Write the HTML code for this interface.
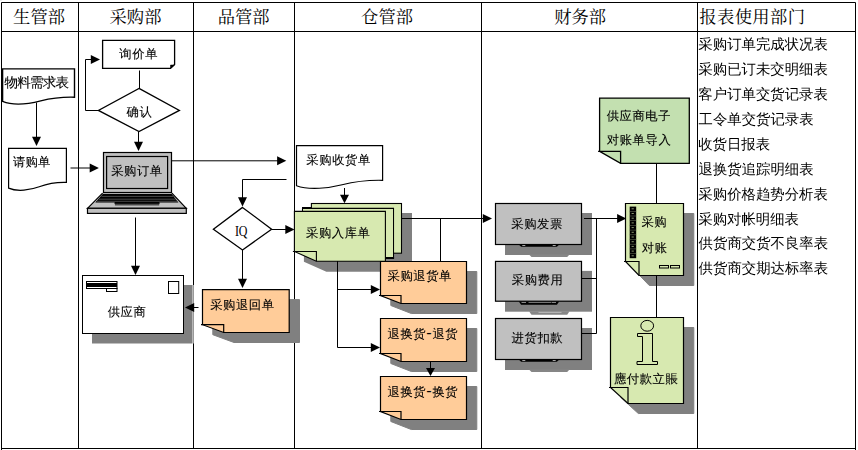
<!DOCTYPE html>
<html lang="zh-CN">
<head>
<meta charset="utf-8">
<title>采购流程图</title>
<style>
html,body{margin:0;padding:0;background:#fff;}
body{width:858px;height:450px;overflow:hidden;}
svg{display:block;}
text{font-family:"Liberation Serif", "WenQuanYi Zen Hei", sans-serif;fill:#000;}
.h{font-family:"Liberation Serif", "Noto Serif CJK SC", serif;}
.t{font-size:12.3px;letter-spacing:0.6px;stroke:#000;stroke-width:0.1px;}
.l{font-size:14.4px;}
.d{font-family:"Liberation Sans", "WenQuanYi Zen Hei", sans-serif;font-size:16px;letter-spacing:0.9px;}
.q{font-size:15px;letter-spacing:-0.4px;}
.h{font-size:17.3px;}
.ln{fill:none;stroke:#000;stroke-width:1;}
.gl{fill:none;stroke:#000;stroke-width:1;}
.ah{fill:#000;stroke:none;}
</style>
</head>
<body>
<svg width="858" height="450" viewBox="0 0 858 450">
<rect x="0" y="0" width="858" height="450" fill="#fff"/>
<rect x="0" y="0" width="2" height="1" fill="#ececec"/>
<g id="grid">
<path d="M1.5 2.5H855.5M1.5 31.5H855.5M1.5 448.5H855.5" class="gl"/>
<path d="M1.5 2.5V450M78.5 2.5V448.5M193.5 2.5V448.5M294.5 2.5V448.5M481.5 2.5V448.5M697.5 2.5V448.5M855.5 2.5V450" class="gl"/>
</g>
<text x="39.05" y="22.65" class="h" text-anchor="middle">生管部</text>
<text x="135.5" y="23.1" class="h" text-anchor="middle">采购部</text>
<text x="243.65" y="23.1" class="h" text-anchor="middle">品管部</text>
<text x="387.05" y="23.0" class="h" text-anchor="middle">仓管部</text>
<text x="580.2" y="23.4" class="h" text-anchor="middle">财务部</text>
<text x="699.3" y="22.65" class="h" style="letter-spacing:0.4px">报表使用部门</text>
<text x="698.36" y="49" class="l">采购订单完成状况表</text>
<text x="698.36" y="74" class="l">采购已订未交明细表</text>
<text x="698.36" y="99" class="l">客户订单交货记录表</text>
<text x="698.53" y="124" class="l">工令单交货记录表</text>
<text x="698.18" y="149" class="l">收货日报表</text>
<text x="698.53" y="174" class="l">退换货追踪明细表</text>
<text x="698.36" y="199" class="l">采购价格趋势分析表</text>
<text x="698.27" y="224" class="l">采购对帐明细表</text>
<text x="698.6" y="248" class="l">供货商交货不良率表</text>
<text x="698.6" y="273" class="l">供货商交期达标率表</text>
<path d="M2.6 68.9H74.5V97.2C63.72 96.90 51.49 98.17 40.71 100.89C29.92 103.60 13.38 105.78 2.6 101.4Z" fill="#fff" stroke="#000" stroke-width="1.4"/>
<text x="4.45" y="87.2" class="t" style="font-size:13.5px;letter-spacing:-0.75px">物料需求表</text>
<path d="M36.5 102.5L36.5 138" class="ln"/>
<polygon points="36.5,146 32.0,136.8 41.0,136.8" class="ah"/>
<path d="M8.6 148.3H66.4V182.4C57.73 182.10 47.90 183.56 39.23 186.80C30.56 190.04 17.27 192.12 8.6 188.1Z" fill="#fff" stroke="#000" stroke-width="1.2"/>
<text x="13.05" y="165.9" class="t" style="letter-spacing:0.2px">请购单</text>
<path d="M70.5 168L91 168" class="ln"/>
<polygon points="98.9,168 89.7,163.5 89.7,172.5" class="ah"/>
<path d="M102.6 40.3H174.6V64.5L170.5 68.4H102.6Z" fill="#fff" stroke="#000" stroke-width="1.3"/>
<path d="M170.5 68.5V65H174.5Z" fill="#000" stroke="#000" stroke-width="0.5"/>
<text x="138.7" y="57.7" class="t" text-anchor="middle">询价单</text>
<path d="M139.5 70.5L139.5 88.5" class="ln"/>
<path d="M139 88.4L179.4 110.4L139 131.6L98.4 110.4Z" fill="#fff" stroke="#000" stroke-width="1.3"/>
<text x="139.5" y="115.6" class="t" text-anchor="middle">确认</text>
<path d="M98.5 110.5H85.5V59.5H91" class="ln"/>
<polygon points="100,59.5 90.8,55.0 90.8,64.0" class="ah"/>
<path d="M138.5 131.5L138.5 142" class="ln"/>
<polygon points="138.5,151 134.0,141.8 143.0,141.8" class="ah"/>
<path d="M102.6 193H171.9L186.3 208.3H87.5Z" fill="#c0c0c0"/>
<path d="M102.6 193.2L87.5 208.3H186.3L171.9 193.2" fill="none" stroke="#000" stroke-width="1.2"/>
<rect x="87.5" y="208.3" width="98.8" height="5.1" fill="#c0c0c0" stroke="#000" stroke-width="1.2"/>
<path d="M102.8 193.9H171.7L178.4 202.4H159.5V204H114.6V202.4H95.3Z" fill="#000"/>
<path d="M101.5 196.4H173M98.8 199.2H175.7M97 201.3H177.5" stroke="#7a7a7a" stroke-width="0.6" fill="none"/>
<rect x="114.9" y="203.7" width="44.3" height="1.8" fill="#484848"/>
<rect x="103.5" y="152.5" width="68" height="40" fill="#c0c0c0" stroke="#000" stroke-width="1.2"/>
<rect x="106.6" y="156.5" width="61" height="32" fill="#c0c0c0" stroke="#000" stroke-width="1.2"/>
<text x="136.95" y="174.5" class="t" text-anchor="middle">采购订单</text>
<path d="M135.5 217.5L135.5 267" class="ln"/>
<polygon points="135.5,275 131.0,265.8 140.0,265.8" class="ah"/>
<path d="M172 160.8L278 160.8" class="ln"/>
<polygon points="286.3,160.8 277.1,156.3 277.1,165.3" class="ah"/>
<rect x="92" y="285" width="100" height="58.5" fill="#808080"/>
<path d="M192.5 285V343.5" stroke="#b8b8b8" fill="none"/>
<path d="M193.5 285V343.5" stroke="#999" fill="none"/>
<rect x="82.5" y="275.5" width="101" height="58" fill="#fff" stroke="#000"/>
<rect x="86.5" y="281.5" width="30.5" height="7" fill="#000" stroke="#000"/>
<path d="M87 282.5H116.5M87 287.5H116.5" stroke="#fff" fill="none"/>
<rect x="106.5" y="288.5" width="10.5" height="3" fill="#fff" stroke="#000"/>
<rect x="168.5" y="281.5" width="10.2" height="12" fill="#fff" stroke="#000"/>
<text x="127.0" y="315.9" class="t" text-anchor="middle">供应商</text>
<path d="M193 307.5L198.5 307.5" class="ln"/>
<polygon points="185,307.5 194.2,303.0 194.2,312.0" class="ah"/>
<path d="M286.5 179.5H242.5V198" class="ln"/>
<polygon points="242.5,206.5 238.0,197.3 247.0,197.3" class="ah"/>
<path d="M242.5 207.4L271.6 229.2L242.5 250L213.4 229.2Z" fill="#fff" stroke="#000" stroke-width="1.3"/>
<text transform="translate(241.0 236.35) scale(0.8 1)" class="q" text-anchor="middle">IQ</text>
<path d="M271.5 229.5L286 229.5" class="ln"/>
<polygon points="294.5,229.5 285.3,225.0 285.3,234.0" class="ah"/>
<path d="M242.5 250L242.5 279" class="ln"/>
<polygon points="242.5,288 238.0,278.8 247.0,278.8" class="ah"/>
<path d="M202.5 289.6H289.2V332.5H223.7L202.5 324.7Z" fill="#808080" stroke="#808080" stroke-width="1" transform="translate(10.3 10)"/>
<path d="M202.5 289.6H289.2V332.5H223.7L202.5 324.7Z" fill="#ffcc99" stroke="#000" stroke-width="1.2"/>
<path d="M201.0 324.7H223.7V332.5" fill="none" stroke="#000" stroke-width="1.2"/>
<text x="210.15" y="309.0" class="t">采购退回单</text>
<path d="M296.5 145.6H382.6V180.3C369.69 180.00 355.05 181.47 342.13 184.75C329.22 188.04 309.42 190.43 296.5 185.7Z" fill="#fff" stroke="#000" stroke-width="1.2"/>
<text x="306.35" y="164.25" class="t">采购收货单</text>
<path d="M344.5 188L344.5 196" class="ln"/>
<polygon points="344.5,203.3 340.0,194.70000000000002 349.0,194.70000000000002" class="ah"/>
<rect x="320.8" y="213" width="91.2" height="50.7" fill="#808080"/>
<path d="M303.9 220.9H395.9V271.7H326.4L303.9 261.7Z" fill="#808080"/>
<rect x="311.4" y="203.5" width="90.1" height="49.7" fill="#d7e9b0" stroke="#000" stroke-width="1.1"/>
<path d="M302.5 253V208.4H393.5V257.6H317" fill="none" stroke="#000" stroke-width="1.1"/>
<path d="M303 209H393V257H317V253H303Z" fill="#d7e9b0"/>
<path d="M302 207.9H311.6M385.4 258.1H394.1" stroke="#000" stroke-width="1.8" fill="none"/>
<path d="M294.4 211.4H385.4V261.2H316.4L294.4 251.5Z" fill="#d7e9b0" stroke="#000" stroke-width="1.1"/>
<path d="M292.9 251.5H316.4V261.2" fill="none" stroke="#000" stroke-width="1.1"/>
<text x="306.0" y="237.0" class="t">采购入库单</text>
<path d="M402 218.5L484 218.5" class="ln"/>
<polygon points="492,218.5 482.8,214.0 482.8,223.0" class="ah"/>
<path d="M440.5 218.5L440.5 261" class="ln"/>
<path d="M337.5 261L337.5 347.5" class="ln"/>
<path d="M337.5 289.5L372 289.5" class="ln"/>
<polygon points="380,289.5 370.8,285.0 370.8,294.0" class="ah"/>
<path d="M337.5 347.5L372 347.5" class="ln"/>
<polygon points="380,347.5 370.8,343.0 370.8,352.0" class="ah"/>
<path d="M380.5 261.5H466.5V303.5H401.0L380.5 295.5Z" fill="#808080" stroke="#808080" stroke-width="1" transform="translate(10.3 10)"/>
<path d="M380.5 261.5H466.5V303.5H401.0L380.5 295.5Z" fill="#ffcc99" stroke="#000" stroke-width="1.2"/>
<path d="M379.0 295.5H401.0V303.5" fill="none" stroke="#000" stroke-width="1.2"/>
<text x="387.5" y="280.0" class="t">采购退货单</text>
<path d="M380.5 318.5H466.5V361.5H401.0L380.5 353.5Z" fill="#808080" stroke="#808080" stroke-width="1" transform="translate(10.3 10)"/>
<path d="M380.5 318.5H466.5V361.5H401.0L380.5 353.5Z" fill="#ffcc99" stroke="#000" stroke-width="1.2"/>
<path d="M379.0 353.5H401.0V361.5" fill="none" stroke="#000" stroke-width="1.2"/>
<text x="387.5" y="338.1" class="t">退换货<tspan class="d">-</tspan>退货</text>
<path d="M430.5 361.5L430.5 368" class="ln"/>
<polygon points="430.5,376 426.0,368 435.0,368" class="ah"/>
<path d="M380.5 376.5H466.5V419.5H401.0L380.5 411.5Z" fill="#808080" stroke="#808080" stroke-width="1" transform="translate(10.3 10)"/>
<path d="M380.5 376.5H466.5V419.5H401.0L380.5 411.5Z" fill="#ffcc99" stroke="#000" stroke-width="1.2"/>
<path d="M379.0 411.5H401.0V419.5" fill="none" stroke="#000" stroke-width="1.2"/>
<text x="387.5" y="395.5" class="t">退换货<tspan class="d">-</tspan>换货</text>
<rect x="505.0" y="213.0" width="87.0" height="42.0" fill="#808080"/>
<path d="M529.0 254.5H569.5L567.2 256.9H531.5Z" fill="#868686"/>
<path d="M518.7 244.5H559.3L556.9 246.8H521.1Z" fill="#000"/>
<path d="M522.3 245.5h3M552.7 245.5h3" stroke="#e8e8e8" stroke-width="0.8" fill="none"/>
<rect x="495.5" y="203.5" width="86.0" height="41.0" fill="#c0c0c0" stroke="#000" stroke-width="1.2"/>
<text x="511.3" y="228.1" class="t">采购发票</text>
<rect x="505.0" y="270.9" width="87.0" height="40.80000000000001" fill="#808080"/>
<path d="M529.0 311.2H569.5L567.2 314.8H531.5Z" fill="#868686"/>
<path d="M518.7 301.2H559.3L556.9 304.7H521.1Z" fill="#000"/>
<path d="M521.5 302.3h4.5M552.0 302.3h4M528.5 302.2H551.5" stroke="#f0f0f0" stroke-width="0.7" fill="none"/>
<path d="M538.5 312.4H561.5" stroke="#d0d0d0" stroke-width="0.7" fill="none"/>
<rect x="495.5" y="261.4" width="86.0" height="39.80000000000001" fill="#c0c0c0" stroke="#000" stroke-width="1.2"/>
<text x="511.8" y="284.0" class="t">采购费用</text>
<rect x="505.0" y="328.0" width="87.0" height="42.0" fill="#808080"/>
<path d="M529.0 369.5H569.5L567.2 371.90000000000003H531.5Z" fill="#868686"/>
<path d="M518.7 359.5H559.3L556.9 361.8H521.1Z" fill="#000"/>
<path d="M522.3 360.5h3M552.7 360.5h3" stroke="#e8e8e8" stroke-width="0.8" fill="none"/>
<rect x="495.5" y="318.5" width="86.0" height="41.0" fill="#c0c0c0" stroke="#000" stroke-width="1.2"/>
<text x="511.6" y="342.25" class="t">进货扣款</text>
<path d="M584 218.5H618M596.5 218.5V333.5H582M582 278.5H596.5" class="ln"/>
<polygon points="626.3,218.5 617.0999999999999,214.0 617.0999999999999,223.0" class="ah"/>
<path d="M599.6 98.1H689.3V163.4H620.6L599.6 151.4Z" fill="#c3e0b0" stroke="#000" stroke-width="1.3"/>
<path d="M598.1 151.4H620.6V163.4" fill="none" stroke="#000" stroke-width="1.3"/>
<text x="606.65" y="120.2" class="t">供应商电子</text>
<text x="606.8" y="144.45" class="t">对账单导入</text>
<path d="M656.5 163.5L656.5 203.5" class="ln"/>
<path d="M625.5 203.5H683.5V275.5H639.0L625.5 261.5Z" fill="#808080" stroke="#808080" stroke-width="1" transform="translate(10.3 10)"/>
<path d="M625.5 203.5H683.5V275.5H639.0L625.5 261.5Z" fill="#d7e9b0" stroke="#000" stroke-width="1.2"/>
<path d="M624.0 261.5H639.0V275.5" fill="none" stroke="#000" stroke-width="1.2"/>
<rect x="629.7" y="206.6" width="6.5" height="51.6" fill="#000"/>
<rect x="631.6" y="208.3" width="2.2" height="1" fill="#8a9670"/>
<rect x="631.6" y="213.0" width="2.2" height="1" fill="#8a9670"/>
<rect x="629.7" y="211.0" width="6.5" height="0.6" fill="#5f6650"/>
<rect x="631.6" y="217.7" width="2.2" height="1" fill="#8a9670"/>
<rect x="629.7" y="215.7" width="6.5" height="0.6" fill="#5f6650"/>
<rect x="631.6" y="222.4" width="2.2" height="1" fill="#8a9670"/>
<rect x="629.7" y="220.4" width="6.5" height="0.6" fill="#5f6650"/>
<rect x="631.6" y="227.1" width="2.2" height="1" fill="#8a9670"/>
<rect x="629.7" y="225.1" width="6.5" height="0.6" fill="#5f6650"/>
<rect x="631.6" y="231.8" width="2.2" height="1" fill="#8a9670"/>
<rect x="629.7" y="229.8" width="6.5" height="0.6" fill="#5f6650"/>
<rect x="631.6" y="236.5" width="2.2" height="1" fill="#8a9670"/>
<rect x="629.7" y="234.5" width="6.5" height="0.6" fill="#5f6650"/>
<rect x="631.6" y="241.2" width="2.2" height="1" fill="#8a9670"/>
<rect x="629.7" y="239.2" width="6.5" height="0.6" fill="#5f6650"/>
<rect x="631.6" y="245.9" width="2.2" height="1" fill="#8a9670"/>
<rect x="629.7" y="243.9" width="6.5" height="0.6" fill="#5f6650"/>
<rect x="631.6" y="250.6" width="2.2" height="1" fill="#8a9670"/>
<rect x="629.7" y="248.6" width="6.5" height="0.6" fill="#5f6650"/>
<rect x="631.6" y="255.3" width="2.2" height="1" fill="#8a9670"/>
<rect x="629.7" y="253.3" width="6.5" height="0.6" fill="#5f6650"/>
<rect x="659.5" y="265.5" width="9" height="2.5" fill="#d7e9b0" stroke="#000"/>
<rect x="670.5" y="265.5" width="9" height="2.5" fill="#d7e9b0" stroke="#000"/>
<text x="641.4" y="226.3" class="t">采购</text>
<text x="641.8" y="252.4" class="t">对账</text>
<path d="M656.5 276L656.5 317.5" class="ln"/>
<path d="M610.5 317.5H683.5V403.5H628.0L610.5 387.5Z" fill="#808080" stroke="#808080" stroke-width="1" transform="translate(10.3 10)"/>
<path d="M610.5 317.5H683.5V403.5H628.0L610.5 387.5Z" fill="#d7e9b0" stroke="#000" stroke-width="1.2"/>
<path d="M609.0 387.5H628.0V403.5" fill="none" stroke="#000" stroke-width="1.2"/>
<ellipse cx="647.2" cy="325.8" rx="6.4" ry="5.4" fill="#d7e9b0" stroke="#000"/>
<path d="M637.5 333.5H652.5V361.5H657.5V364.5H637V361.5H642.5V336.5H637.5Z" fill="#d7e9b0" stroke="#000"/>
<text x="613.9" y="383.3" class="t">應付款立賬</text>
</svg>
</body>
</html>
